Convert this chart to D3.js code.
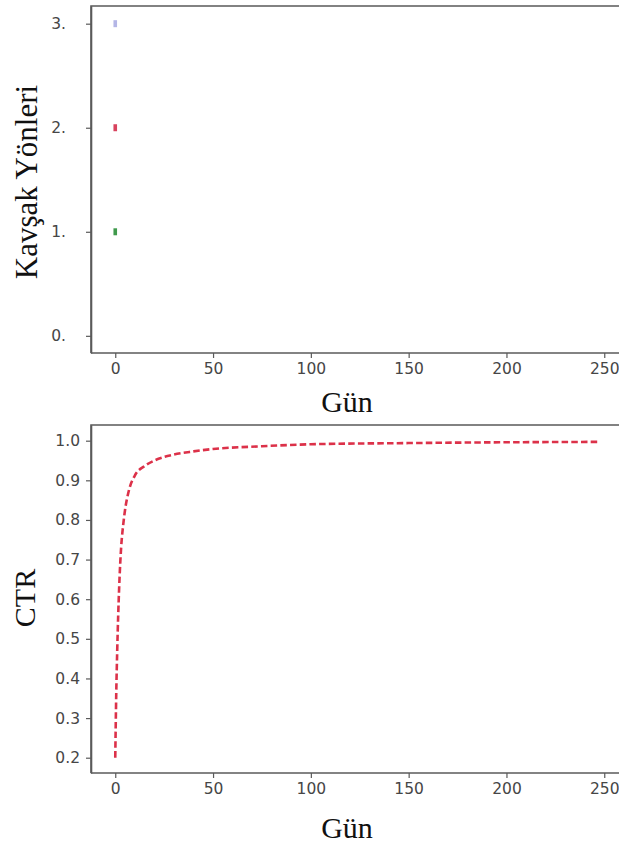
<!DOCTYPE html>
<html>
<head>
<meta charset="utf-8">
<script src="https://cdn.jsdelivr.net/npm/d3@7"></script>
<style>
    body { margin: 0; background: #fff; }
    svg { display: block; }
    .tick text { font-family: "DejaVu Sans", sans-serif; fill: #464646; }
    .axisTitle { font-family: "Liberation Serif", "Times New Roman", serif; fill: #111; }
</style>
</head>
<body>
<div class="chart"></div>
<script>
// top chart: junction directions at day 0
const dirDays = [0, 0, 0];
const dirValues = [1, 2, 3];
const dirColors = ['#3f9a4c', '#d8435e', '#b4b6e6'];
const dirTicks = [0, 1, 2, 3];

// bottom chart: CTR over days
const ctrDays = [0, 0.5, 1, 2, 3, 4, 5, 7, 10, 15, 20, 30, 40, 50, 75, 100, 150, 200, 248];
const ctrValues = [0.20, 0.36, 0.47, 0.63, 0.73, 0.785, 0.825, 0.875, 0.912, 0.936, 0.950, 0.965, 0.973, 0.979, 0.986, 0.991, 0.994, 0.996, 0.997];
const ctrTicks = [0.2, 0.3, 0.4, 0.5, 0.6, 0.7, 0.8, 0.9, 1.0];
const dayTicks = [0, 50, 100, 150, 200, 250];

const W = 619, H = 848;
const svg = d3.select('.chart').append('svg')
    .attr('width', W)
    .attr('height', H);

const x = d3.scaleLinear().domain([-12.4, 260.4]).range([91, 624.6]);

function drawFrame(g, top, bottom) {
    // top + left spines (right one falls off the picture)
    g.append('path')
        .attr('d', 'M' + 91 + ',' + bottom + 'V' + top + 'H' + W)
        .attr('fill', 'none')
        .attr('stroke', '#5a5a5a')
        .attr('stroke-width', 1.6);
}

function styleAxis(ag) {
    ag.select('.domain').attr('stroke', '#5a5a5a').attr('stroke-width', 1.6);
    ag.selectAll('.tick line').attr('stroke', '#5a5a5a').attr('stroke-width', 1.2);
    ag.selectAll('.tick text').attr('font-size', 15.5);
}

// ---------- top chart ----------
const yTop = d3.scaleLinear().domain([-0.165, 3.17]).range([353, 6]);
const gTop = svg.append('g');
drawFrame(gTop, 6, 353);

const xAxisTop = gTop.append('g')
    .attr('transform', 'translate(0,353)')
    .call(d3.axisBottom(x).tickValues(dayTicks).tickSize(5).tickSizeOuter(0).tickPadding(5));
xAxisTop.select('.domain').attr('d', 'M91,0H' + W);
styleAxis(xAxisTop);

const yAxisTop = gTop.append('g')
    .attr('transform', 'translate(91,0)')
    .call(d3.axisLeft(yTop).tickValues(dirTicks).tickFormat(d => d + '.').tickSize(5).tickSizeOuter(0).tickPadding(20));
styleAxis(yAxisTop);

gTop.selectAll('rect.dir')
    .data(dirValues)
    .enter().append('rect')
    .attr('class', 'dir')
    .attr('x', (d, i) => x(dirDays[i]) - 1.8)
    .attr('y', d => yTop(d) - 3.5)
    .attr('width', 3.6)
    .attr('height', 7)
    .attr('fill', (d, i) => dirColors[i]);

gTop.append('text')
    .attr('class', 'axisTitle')
    .attr('transform', 'translate(37,182) rotate(-90)')
    .attr('text-anchor', 'middle')
    .attr('font-size', 31)
    .text('Kavşak Yönleri');

gTop.append('text')
    .attr('class', 'axisTitle')
    .attr('x', 347)
    .attr('y', 412)
    .attr('text-anchor', 'middle')
    .attr('font-size', 30)
    .text('Gün');

// ---------- bottom chart ----------
const yBot = d3.scaleLinear().domain([0.1614, 1.0396]).range([773, 425]);
const gBot = svg.append('g');
drawFrame(gBot, 425, 773);

const xAxisBot = gBot.append('g')
    .attr('transform', 'translate(0,773)')
    .call(d3.axisBottom(x).tickValues(dayTicks).tickSize(5).tickSizeOuter(0).tickPadding(5));
xAxisBot.select('.domain').attr('d', 'M91,0H' + W);
styleAxis(xAxisBot);

const yAxisBot = gBot.append('g')
    .attr('transform', 'translate(91,0)')
    .call(d3.axisLeft(yBot).tickValues(ctrTicks).tickFormat(d3.format('.1f')).tickSize(5).tickSizeOuter(0).tickPadding(6));
styleAxis(yAxisBot);

const ctrLine = d3.line()
    .x((d, i) => x(ctrDays[i]))
    .y(d => yBot(d))
    .curve(d3.curveMonotoneX);

gBot.append('path')
    .datum(ctrValues)
    .attr('d', ctrLine)
    .attr('fill', 'none')
    .attr('stroke', '#dc3149')
    .attr('stroke-width', 2.6)
    .attr('stroke-dasharray', '6.5,3.2');

gBot.append('text')
    .attr('class', 'axisTitle')
    .attr('transform', 'translate(35,598) rotate(-90)')
    .attr('text-anchor', 'middle')
    .attr('font-size', 30)
    .text('CTR');

gBot.append('text')
    .attr('class', 'axisTitle')
    .attr('x', 347)
    .attr('y', 838)
    .attr('text-anchor', 'middle')
    .attr('font-size', 30)
    .text('Gün');
</script>
</body>
</html>
